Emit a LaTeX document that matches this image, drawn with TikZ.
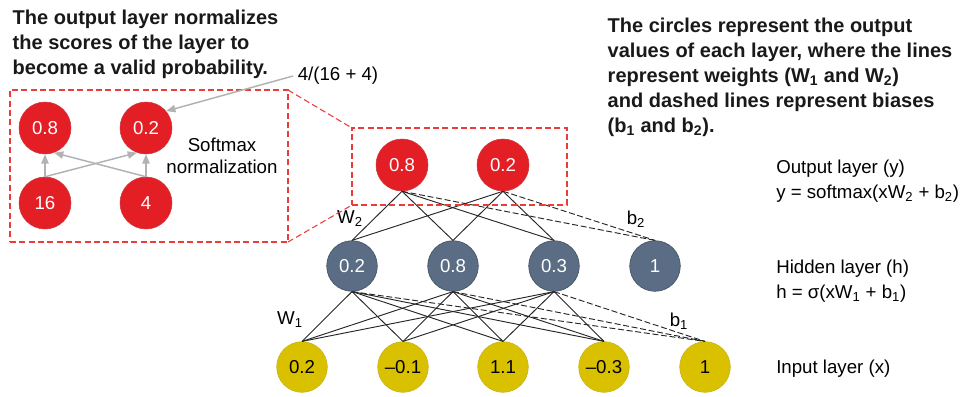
\documentclass[tikz,border=0pt]{standalone}
\usepackage{fontspec}
\setmainfont{Liberation Sans}
\usetikzlibrary{arrows.meta}
\definecolor{redfig}{RGB}{228, 30, 37}
\definecolor{slatefig}{RGB}{90, 109, 132}
\definecolor{yellowfig}{RGB}{218, 193, 0}
\definecolor{boxred}{RGB}{235, 60, 60}
\definecolor{arrowgray}{RGB}{178, 178, 178}

\begin{document}
\begin{tikzpicture}[x=0.75pt, y=-0.75pt,
    every node/.style={font=\fontsize{14}{16.5}\selectfont},
    outnode/.style={circle, fill=redfig, draw=redfig!75!gray, text=white, minimum size=39pt, inner sep=0pt},
    hidnode/.style={circle, fill=slatefig, draw=slatefig!70!black, text=white, minimum size=38pt, inner sep=0pt},
    innode/.style={circle, fill=yellowfig, draw=yellowfig!75!gray, text=black, minimum size=38pt, inner sep=0pt},
    weight/.style={line width=0.7pt, black!85},
    bias/.style={weight, dash pattern=on 4.5pt off 2pt},
    zoombox/.style={draw=boxred, dash pattern=on 4.5pt off 2.5pt, line width=0.8pt, outer sep=0pt, inner sep=0pt},
    normarrow/.style={arrowgray, line width=1.1pt, -{Triangle[length=7pt, width=5.5pt]}},
    note/.style={anchor=north west, align=left, font=\bfseries\fontsize{15}{18.75}\selectfont, text=black!90}]
    \useasboundingbox (0,0) rectangle (962,396);

    % notes
    \node[note] (leftnote) at (8,5) {The output layer normalizes\\the scores of the layer to\\become a valid probability.};
    \node[note] (rightnote) at (603,13) {The circles represent the output\\values of each layer, where the lines\\represent weights (W\textsubscript{1} and W\textsubscript{2})\\and dashed lines represent biases\\(b\textsubscript{1} and b\textsubscript{2}).};

    % network
    \node[outnode] (y1) at (402,165) {0.8};
    \node[outnode] (y2) at (503,165) {0.2};
    \node[hidnode] (h1) at (352,266) {0.2};
    \node[hidnode] (h2) at (453,266) {0.8};
    \node[hidnode] (h3) at (554,266) {0.3};
    \node[hidnode] (hb) at (655,266) {1};
    \node[innode] (x1) at (302,367) {0.2};
    \node[innode] (x2) at (403,367) {\textendash0.1};
    \node[innode] (x3) at (503,367) {1.1};
    \node[innode] (x4) at (604,367) {\textendash0.3};
    \node[innode] (xb) at (705,367) {1};

    \foreach \h in {h1,h2,h3} {
        \foreach \x in {x1,x2,x3,x4}
            \draw[weight] (\h.south) -- (\x.north);
        \draw[bias] (\h.south) -- (xb.north);
    }
    \foreach \y in {y1,y2} {
        \foreach \h in {h1,h2,h3}
            \draw[weight] (\y.south) -- (\h.north);
        \draw[bias] (\y.south) -- (hb.north);
    }

    \node (w2lbl) at (350,219) {W\textsubscript{2}};
    \node (b2lbl) at (636,219) {b\textsubscript{2}};
    \node (w1lbl) at (290,320) {W\textsubscript{1}};
    \node (b1lbl) at (679,321) {b\textsubscript{1}};

    % layer names
    \node[anchor=north west, align=left, inner sep=0pt] (outtxt) at (776,160) {Output layer (y)\\[2pt]y = softmax(xW\textsubscript{2} + b\textsubscript{2})};
    \node[anchor=north west, align=left, inner sep=0pt] (hidtxt) at (776,260) {Hidden layer (h)\\[2pt]h = σ(xW\textsubscript{1} + b\textsubscript{1})};
    \node[anchor=north west, align=left, inner sep=0pt] (intxt) at (776,360) {Input layer (x)};

    % zoomed softmax
    \node[zoombox, minimum width=208.5pt, minimum height=114pt] (smallbox) at (149,166) {};
    \node[zoombox, minimum width=161.25pt, minimum height=57.75pt] (bigbox) at (459.5,166.5) {};
    \draw[zoombox] (smallbox.north east) -- (bigbox.north west);
    \draw[zoombox] (smallbox.south east) -- (bigbox.south west);

    \node[outnode] (s1) at (45,128) {0.8};
    \node[outnode] (s2) at (146,128) {0.2};
    \node[outnode] (s16) at (45,203) {16};
    \node[outnode] (s4) at (146,203) {4};
    \draw[normarrow] (s16.north) -- (s1.south);
    \draw[normarrow] (s4.north) -- (s2.south);
    \draw[normarrow] (s16.north) -- (s2.250);
    \draw[normarrow] (s4.north) -- (s1.290);

    \node[align=center] (softlbl) at (222,156) {Softmax\\normalization};
    \node (fraclbl) at (338,76) {4/(16 + 4)};
    \draw[normarrow] (fraclbl.west) -- (s2.40);
\end{tikzpicture}
\end{document}
